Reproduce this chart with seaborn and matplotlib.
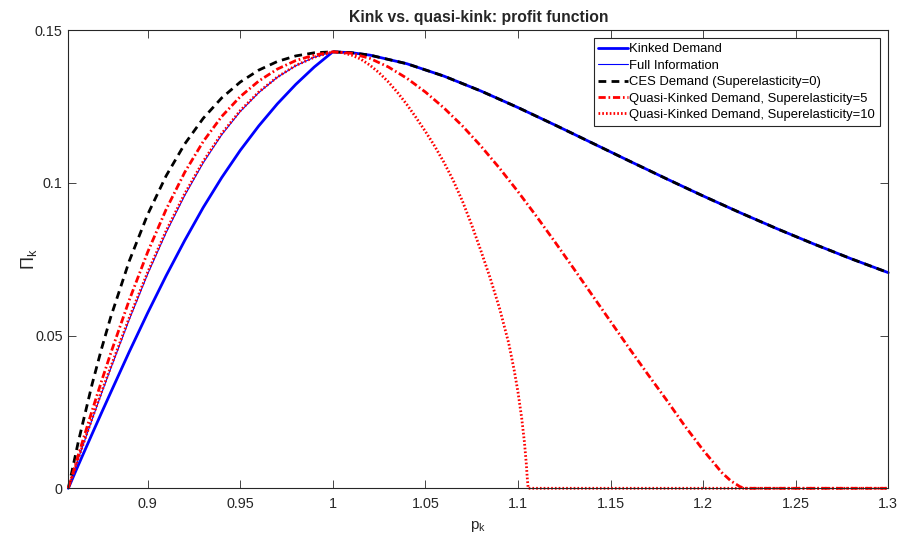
import matplotlib
matplotlib.use("Agg")
import matplotlib.pyplot as plt
import seaborn as sns
import pandas as pd

# ---------------- data ----------------
p_left = [0.857143, 0.8625, 0.87, 0.875, 0.88, 0.89, 0.90, 0.91, 0.92, 0.93,
          0.94, 0.95, 0.96, 0.97, 0.98, 0.99, 1.00]
p_right = [1.01, 1.02, 1.04, 1.06, 1.08, 1.10, 1.12, 1.14, 1.16, 1.18, 1.20,
           1.22, 1.24, 1.26, 1.28, 1.30]

kinked_left = [0, 0.0075, 0.0178, 0.0246, 0.0313, 0.0446, 0.0574, 0.0696, 0.0811,
               0.0919, 0.1017, 0.1106, 0.1186, 0.1258, 0.1322, 0.1379, 0.14286]
full_info_left = [0, 0.0096, 0.0225, 0.0309, 0.0391, 0.0551, 0.0701, 0.0837, 0.0958,
                  0.1065, 0.1157, 0.1233, 0.1295, 0.1345, 0.1383, 0.1411, 0.14286]
ces_left = [0, 0.01509, 0.03408, 0.04547, 0.05593, 0.07428, 0.08961, 0.10229, 0.11268,
            0.12109, 0.12778, 0.13296, 0.13687, 0.13968, 0.14152, 0.14254, 0.14286]
ces_right = [0.14257, 0.14178, 0.13896, 0.13491, 0.13003, 0.12462, 0.11890, 0.11304,
             0.10716, 0.10136, 0.09568, 0.09020, 0.08493, 0.07990, 0.07511, 0.07058]

qk5_p = [0.857143, 0.8625, 0.87, 0.875, 0.88, 0.89, 0.90, 0.91, 0.92, 0.93, 0.94, 0.95,
         0.96, 0.97, 0.98, 0.99, 1.00, 1.01, 1.02, 1.03, 1.04, 1.05, 1.06, 1.07, 1.08,
         1.09, 1.10, 1.11, 1.12, 1.13, 1.14, 1.15, 1.16, 1.17, 1.18, 1.19, 1.20, 1.21,
         1.215, 1.22, 1.2225, 1.30]
qk5_v = [0, 0.0108, 0.0254, 0.0349, 0.0441, 0.0615, 0.0773, 0.0913, 0.1034, 0.1135,
         0.1217, 0.1282, 0.1333, 0.1372, 0.1400, 0.1418, 0.14286, 0.1424, 0.1407, 0.1379,
         0.1342, 0.1297, 0.1245, 0.1186, 0.1120, 0.1048, 0.0971, 0.0890, 0.0806, 0.0720,
         0.0633, 0.0546, 0.0459, 0.0374, 0.0291, 0.0205, 0.0125, 0.0052, 0.0024, 0.0005,
         0.0, 0.0]

qk10_p = [0.857143, 0.8625, 0.87, 0.875, 0.88, 0.89, 0.90, 0.91, 0.92, 0.93, 0.94, 0.95,
          0.96, 0.97, 0.98, 0.99, 1.00, 1.005, 1.01, 1.015, 1.02, 1.025, 1.03, 1.035,
          1.04, 1.045, 1.05, 1.055, 1.06, 1.065, 1.07, 1.075, 1.08, 1.085, 1.09, 1.095,
          1.098, 1.100, 1.102, 1.1035, 1.1045, 1.105, 1.1055, 1.30]
qk10_v = [0, 0.0098, 0.0229, 0.0314, 0.0396, 0.0557, 0.0707, 0.0843, 0.0964, 0.1070,
          0.1161, 0.1236, 0.1297, 0.1346, 0.1384, 0.1411, 0.14286, 0.1426, 0.1418, 0.1405,
          0.1385, 0.1360, 0.1330, 0.1295, 0.1256, 0.1213, 0.1168, 0.1120, 0.1067, 0.1008,
          0.0940, 0.0862, 0.0777, 0.0688, 0.0590, 0.0475, 0.0385, 0.0315, 0.0230, 0.0150,
          0.0080, 0.0035, 0.0, 0.0]

labels = ["Kinked Demand", "Full Information", "CES Demand (Superelasticity=0)",
          "Quasi-Kinked Demand, Superelasticity=5", "Quasi-Kinked Demand, Superelasticity=10"]
x_ticks = [0.9, 0.95, 1.0, 1.05, 1.1, 1.15, 1.2, 1.25, 1.3]
x_ticklabels = ["0.9", "0.95", "1", "1.05", "1.1", "1.15", "1.2", "1.25", "1.3"]
y_ticks = [0, 0.05, 0.1, 0.15]
y_ticklabels = ["0", "0.05", "0.1", "0.15"]

# ---------------- style ----------------
sns.set_style("white")
plt.rcParams["font.family"] = ["Liberation Sans", "DejaVu Sans"]
plt.rcParams["mathtext.fontset"] = "stix"
plt.rcParams["mathtext.default"] = "regular"

axc = (0.15, 0.15, 0.15)
fig = plt.figure(figsize=(8.99, 5.37), dpi=100)
ax = fig.add_axes([68.3 / 899, 1 - 488.3 / 537, (888.3 - 68.3) / 899, (488.3 - 30) / 537])

curves = [
    (p_left + p_right, kinked_left + ces_right, dict(color="#0000ff", lw=2.0, linestyle="-")),
    (p_left + p_right, full_info_left + ces_right, dict(color="#0000ff", lw=0.8, linestyle="-")),
    (p_left + p_right, ces_left + ces_right, dict(color="black", lw=2.0, linestyle=(0, (2.8, 1.9)))),
    (qk5_p, qk5_v, dict(color="#ff0000", lw=2.0, linestyle=(0, (2.6, 1.0, 0.6, 1.0)))),
    (qk10_p, qk10_v, dict(color="#ff0000", lw=2.0, linestyle=(0, (0.6, 0.75)))),
]
for (xs, ys, kw), lab in zip(curves, labels):
    df = pd.DataFrame({"p": xs, "v": ys})
    sns.lineplot(data=df, x="p", y="v", ax=ax, sort=False, estimator=None,
                 label=lab, clip_on=False, **kw)

ax.set_xlim(0.857143, 1.3)
ax.set_ylim(0, 0.15)
ax.set_xticks(x_ticks)
ax.set_xticklabels(x_ticklabels)
ax.set_yticks(y_ticks)
ax.set_yticklabels(y_ticklabels)
ax.tick_params(direction="in", length=6, width=0.6, color=axc, labelcolor=axc,
               labelsize=10.4, top=True, right=True, bottom=True, left=True)
ax.tick_params(axis="x", pad=6)
ax.tick_params(axis="y", pad=4)
for s in ax.spines.values():
    s.set_visible(True)
    s.set_color(axc)
    s.set_linewidth(0.8)

ax.set_xlabel(r"p$_\mathregular{k}$", fontsize=11, color=axc, labelpad=6)
ax.set_ylabel(r"$\Pi_\mathregular{k}$", fontsize=13, color=axc, labelpad=-3)
ax.set_title("Kink vs. quasi-kink: profit function", fontsize=11.3,
             fontweight="bold", pad=6)

leg = ax.legend(loc="upper right", fontsize=9.4, frameon=True, fancybox=False,
                shadow=False, framealpha=1, edgecolor=axc, handlelength=2.3,
                handletextpad=0.1, labelspacing=0.33, borderpad=0.35,
                borderaxespad=0.65)
leg.get_frame().set_linewidth(0.8)
for t in leg.get_texts():
    t.set_color("black")

fig.savefig("out.png", dpi=100)
